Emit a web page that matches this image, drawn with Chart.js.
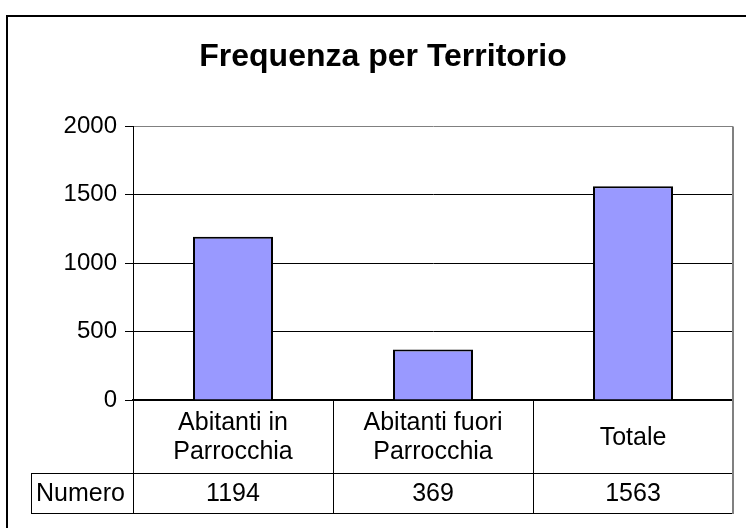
<!DOCTYPE html>
<html>
<head>
<meta charset="utf-8">
<script src="https://cdn.jsdelivr.net/npm/chart.js@4.4.1/dist/chart.umd.min.js"></script>
<style>
  html, body { margin: 0; padding: 0; background: #fff; }
</style>
</head>
<body>
<canvas id="chart" width="746" height="528"></canvas>
<script>
const categories = [["Abitanti in", "Parrocchia"], ["Abitanti fuori", "Parrocchia"], "Totale"];
const values = [1194, 369, 1563];
const rowLabel = "Numero";
const yMax = 2000;
const yStep = 500;

const fontFamily = "'Liberation Sans', Arial, sans-serif";

// frame round the whole chart + the data table under the axis
const tablePlugin = {
  id: "dataTable",
  beforeDraw(chart) {
    const ctx = chart.ctx;
    ctx.save();
    ctx.fillStyle = "#fff";
    ctx.fillRect(0, 0, chart.width, chart.height);
    ctx.fillStyle = "#000";
    ctx.fillRect(6, 15, chart.width, 2);
    ctx.fillRect(6, 15, 2, chart.height);
    ctx.restore();
  },
  afterDraw(chart) {
    const ctx = chart.ctx;
    const area = chart.chartArea;
    const x = chart.scales.x;
    const rowTop = area.bottom + 73;
    const rowBottom = area.bottom + 113;
    const rowLeft = 31;

    const edges = [area.left];
    for (let i = 0; i < values.length - 1; i++) {
      edges.push((x.getPixelForValue(i) + x.getPixelForValue(i + 1)) / 2);
    }
    edges.push(area.right);

    ctx.save();
    ctx.lineWidth = 1;
    ctx.strokeStyle = "#000";
    ctx.beginPath();
    // horizontal lines of the row
    ctx.moveTo(rowLeft, rowTop + 0.5);
    ctx.lineTo(area.right, rowTop + 0.5);
    ctx.moveTo(rowLeft, rowBottom + 0.5);
    ctx.lineTo(area.right, rowBottom + 0.5);
    ctx.moveTo(rowLeft + 0.5, rowTop);
    ctx.lineTo(rowLeft + 0.5, rowBottom);
    // column dividers
    for (let i = 0; i < edges.length - 1; i++) {
      const ex = Math.round(edges[i]) + 0.5;
      ctx.moveTo(ex, area.bottom);
      ctx.lineTo(ex, rowBottom);
    }
    ctx.stroke();

    // grey plot border on the right
    ctx.strokeStyle = "#808080";
    ctx.lineWidth = 2;
    ctx.beginPath();
    ctx.moveTo(area.right, area.top);
    ctx.lineTo(area.right, rowBottom + 1);
    ctx.stroke();

    ctx.fillStyle = "#000";
    ctx.font = "25px " + fontFamily;
    ctx.textBaseline = "middle";
    const midY = (rowTop + rowBottom) / 2 + 1;
    ctx.textAlign = "left";
    ctx.fillText(rowLabel, rowLeft + 5, midY);
    ctx.textAlign = "center";
    values.forEach((v, i) => {
      ctx.fillText(String(v), x.getPixelForValue(i), midY);
    });
    ctx.restore();
  }
};

const ctx = document.getElementById("chart").getContext("2d");
new Chart(ctx, {
  type: "bar",
  data: {
    labels: categories,
    datasets: [{
      label: rowLabel,
      data: values,
      backgroundColor: "#9999FF",
      borderColor: "#000",
      borderWidth: 2,
      barPercentage: 0.4,
      categoryPercentage: 1.0
    }]
  },
  options: {
    responsive: false,
    animation: false,
    layout: { padding: { left: 33, right: 13, top: 0, bottom: 0 } },
    plugins: {
      legend: { display: false },
      tooltip: { enabled: false },
      title: {
        display: true,
        text: "Frequenza per Territorio",
        color: "#000",
        font: { family: fontFamily, size: 32, weight: "bold", lineHeight: 1.2 },
        padding: { top: 38, bottom: 50 }
      }
    },
    scales: {
      x: {
        grid: { display: false, drawTicks: false },
        border: { display: true, color: "#000", width: 2 },
        ticks: {
          color: "#000",
          padding: 23,
          maxRotation: 0,
          autoSkip: false,
          crossAlign: "center",
          font: { family: fontFamily, size: 25, lineHeight: 1.18 }
        },
        afterFit(scale) { scale.height = 128; }
      },
      y: {
        min: 0,
        max: yMax,
        grid: {
          color: c => (c.tick && c.tick.value === yMax ? "#808080" : "#000"),
          tickColor: "#000",
          tickLength: 8,
          lineWidth: 1
        },
        border: { display: true, color: "#000", width: 1 },
        ticks: {
          stepSize: yStep,
          color: "#000",
          padding: 8,
          callback: v => String(v),
          font: { family: fontFamily, size: 24 }
        },
        afterFit(scale) { scale.width = 100; }
      }
    }
  },
  plugins: [tablePlugin]
});
</script>
</body>
</html>
